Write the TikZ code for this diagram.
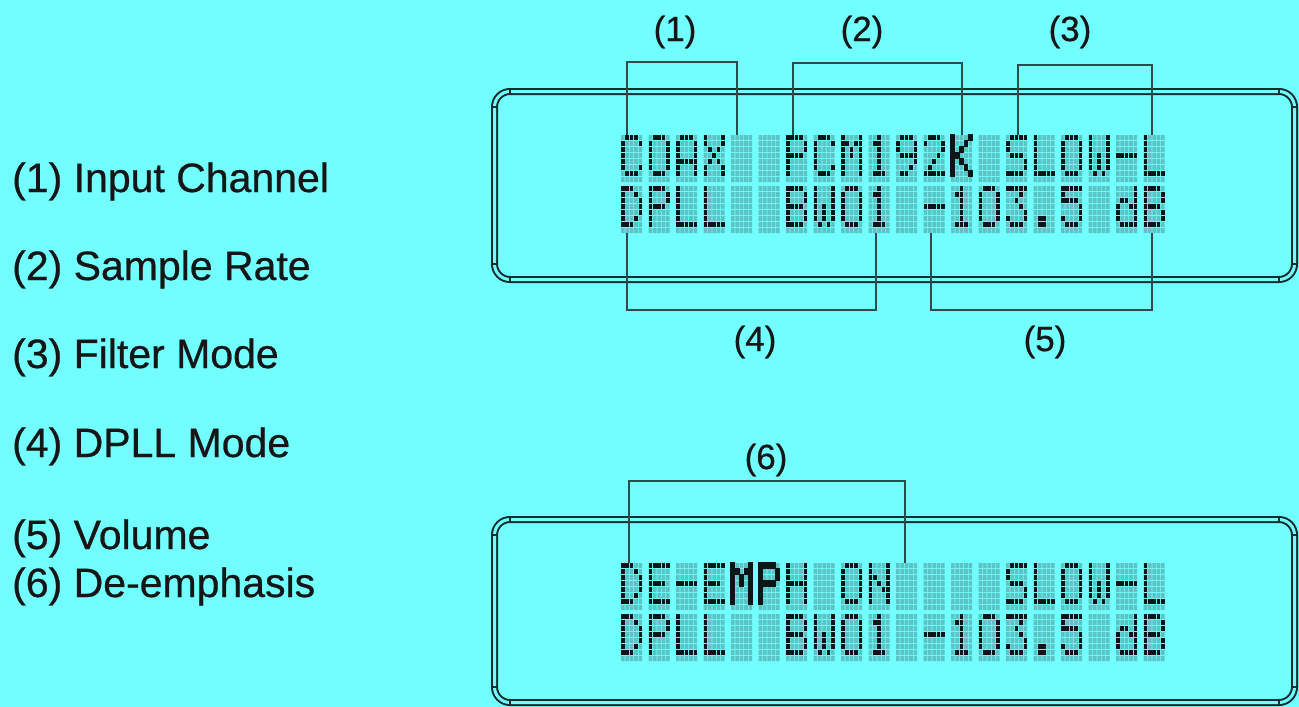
\documentclass[tikz,border=0pt]{standalone}
\usepackage{fontspec}
\setmainfont{Liberation Sans}
\newfontfamily\lblfont{Liberation Sans}[FakeBold=0.6]
\definecolor{bgc}{RGB}{114,254,254}
\definecolor{unlitc}{RGB}{92,196,196}
\definecolor{litc}{RGB}{12,22,22}
\definecolor{framec}{RGB}{22,45,45}
\definecolor{leaderc}{RGB}{45,75,75}
\definecolor{textc}{RGB}{22,22,22}

\newcommand\defglyph[2]{\expandafter\def\csname lcdg#1\endcsname{#2}}
\defglyph{sp}{00000,00000,00000,00000,00000,00000,00000}
\defglyph{C}{01110,10001,10000,10000,10000,10001,01110}
\defglyph{O}{01110,10001,10001,10001,10001,10001,01110}
\defglyph{A}{01110,10001,10001,10001,11111,10001,10001}
\defglyph{X}{10001,10001,01010,00100,01010,10001,10001}
\defglyph{P}{11110,10001,10001,11110,10000,10000,10000}
\defglyph{M}{10001,11011,10101,10101,10001,10001,10001}
\defglyph{1}{00100,01100,00100,00100,00100,00100,01110}
\defglyph{9}{01110,10001,10001,01111,00001,00010,01100}
\defglyph{2}{01110,10001,00001,00010,00100,01000,11111}
\defglyph{K}{10001,10010,10100,11000,10100,10010,10001}
\defglyph{S}{01111,10000,10000,01110,00001,00001,11110}
\defglyph{L}{10000,10000,10000,10000,10000,10000,11111}
\defglyph{W}{10001,10001,10001,10101,10101,10101,01010}
\defglyph{dash}{00000,00000,00000,11111,00000,00000,00000}
\defglyph{D}{11100,10010,10001,10001,10001,10010,11100}
\defglyph{B}{11110,10001,10001,11110,10001,10001,11110}
\defglyph{0}{01110,10001,10001,10001,10001,10001,01110}
\defglyph{3}{11111,00010,00100,00010,00001,10001,01110}
\defglyph{dot}{00000,00000,00000,00000,00000,01100,01100}
\defglyph{5}{11111,10000,11110,00001,00001,10001,01110}
\defglyph{d}{00001,00001,01101,10011,10001,10001,01111}
\defglyph{E}{11111,10000,10000,11110,10000,10000,11111}
\defglyph{H}{10001,10001,10001,11111,10001,10001,10001}
\defglyph{N}{10001,10001,11001,10101,10011,10001,10001}

\def\lcdbit#1#2{\ifnum#1=1\relax\fill[lcdnow] ({\lcdx+#2*4.4},{\lcdy+\r*6}) rectangle ++(3.6,5.2);\fi}
\def\lcdbits#1#2#3#4#5\relax{\lcdbit{#1}{0}\lcdbit{#2}{1}\lcdbit{#3}{2}\lcdbit{#4}{3}\lcdbit{#5}{4}}

\newcommand\lcdcell[4]{%
  \tikzset{lcdnow/.style={#4}}%
  \def\lcdx{#1}\def\lcdy{#2}%
  \edef\lcdlist{\csname lcdg#3\endcsname}%
  \foreach \rowbits [count=\r from 0] in \lcdlist {\expandafter\lcdbits\rowbits\relax}%
}

\newcommand\lcdrow[3]{%
  \foreach \g [count=\k from 0] in {#3} {%
    \pgfmathsetmacro\cx{#1+\k*27.5}%
    \fill[unlitc] \foreach \i in {0,...,4}{\foreach \j in {0,...,7}{({\cx+\i*4.4},{#2+\j*6}) rectangle ++(3.6,5.2)}};
    \lcdcell{\cx}{#2}{\g}{fill=litc}%
  }%
}

\tikzset{
  panel/.style={draw=framec, line width=2pt, double=bgc, double distance=3pt,
    rounded corners=15.5pt, inner sep=0pt, outer sep=0pt},
  tick/.style={draw=framec, line width=1.5pt},
  leader/.style={draw=leaderc, line width=1.3pt},
  lbl/.style={font=\lblfont\fontsize{41}{48}\selectfont, text=textc, inner sep=0pt, anchor=base west},
  num/.style={font=\lblfont\fontsize{35}{42}\selectfont, text=textc, inner sep=0pt},
  boldcell/.style={fill=litc, draw=litc, line width=1.3pt}
}

\begin{document}
\begin{tikzpicture}[x=1pt, y=-1pt]
\useasboundingbox (0,0) rectangle (1299,707);
\fill[bgc] (0,0) rectangle (1299,707);

% left legend
\node[lbl] (l1) at (12,192) {(1) Input Channel};
\node[lbl] (l2) at (12,280) {(2) Sample Rate};
\node[lbl] (l3) at (12,368) {(3) Filter Mode};
\node[lbl] (l4) at (12,457) {(4) DPLL Mode};
\node[lbl] (l5) at (12,549) {(5) Volume};
\node[lbl] (l6) at (12,597) {(6) De-emphasis};

% panels
\node[panel, minimum width=800pt, minimum height=188pt] (p1) at (894.5,185.5) {};
\node[panel, minimum width=800pt, minimum height=183pt] (p2) at (894.5,611) {};
% corner ticks
\foreach \yt/\yb in {89/282, 517/705}{
  \draw[tick] (510,\yt) -- ++(0,5.5);
  \draw[tick] (1279,\yt) -- ++(0,5.5);
  \draw[tick] (510,\yb) -- ++(0,-5.5);
  \draw[tick] (1279,\yb) -- ++(0,-5.5);
  \draw[tick] (492,\yt+18) -- ++(5.5,0);
  \draw[tick] (1297,\yt+18) -- ++(-5.5,0);
  \draw[tick] (492,\yb-18) -- ++(5.5,0);
  \draw[tick] (1297,\yb-18) -- ++(-5.5,0);
}

% LCD text
\lcdrow{621}{135}{C,O,A,X,sp,sp,P,C,M,1,9,2,K,sp,S,L,O,W,dash,L}
\lcdrow{621}{186}{D,P,L,L,sp,sp,B,W,0,1,sp,dash,1,0,3,dot,5,sp,d,B}
\lcdrow{621}{563}{D,E,dash,E,M,P,H,sp,O,N,sp,sp,sp,sp,S,L,O,W,dash,L}
\lcdrow{621}{614}{D,P,L,L,sp,sp,B,W,0,1,sp,dash,1,0,3,dot,5,sp,d,B}
% heavier characters
\lcdcell{951}{135}{K}{boldcell}
\lcdcell{731}{563}{M}{boldcell}
\lcdcell{758.5}{563}{P}{boldcell}

% number labels
\node[num] (n1) at (675,32) {(1)};
\node[num] (n2) at (862,32) {(2)};
\node[num] (n3) at (1070,32) {(3)};
\node[num] (n4) at (755,342) {(4)};
\node[num] (n5) at (1045,342) {(5)};
\node[num] (n6) at (766,460) {(6)};

% bracket anchors on the cells
\coordinate (a1) at (627,135);
\coordinate (a5) at (737,135);
\coordinate (a7) at (793,135);
\coordinate (a13) at (962,135);
\coordinate (a15) at (1018,135);
\coordinate (a20) at (1152,135);
\coordinate (b1) at (627,233);
\coordinate (b10) at (876,233);
\coordinate (b12) at (931,233);
\coordinate (b20) at (1152,233);
\coordinate (c1) at (629,563);
\coordinate (c11) at (905,563);

\draw[leader] (a1) -- ++(0,-73) -| (a5);
\draw[leader] (a7) -- ++(0,-72) -| (a13);
\draw[leader] (a15) -- ++(0,-70) -| (a20);
\draw[leader] (b1) -- ++(0,77) -| (b10);
\draw[leader] (b12) -- ++(0,77) -| (b20);
\draw[leader] (c1) -- ++(0,-82) -| (c11);
\end{tikzpicture}
\end{document}
